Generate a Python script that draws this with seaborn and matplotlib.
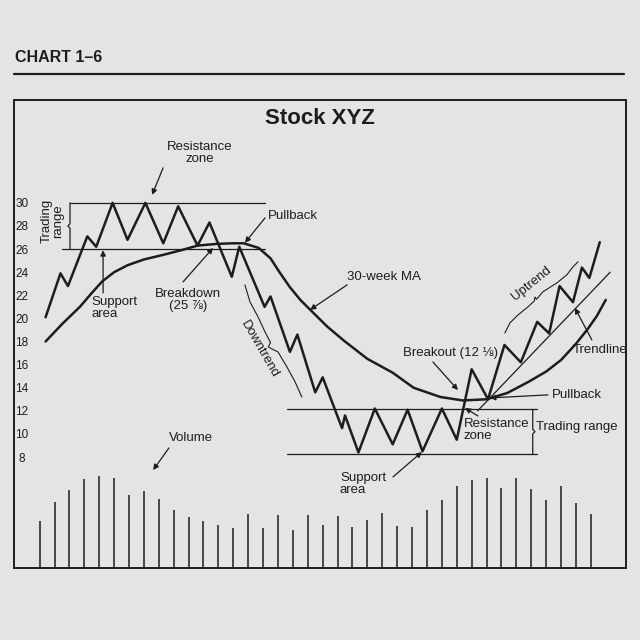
import matplotlib
matplotlib.use("Agg")
import matplotlib.pyplot as plt
from matplotlib.lines import Line2D
import numpy as np
import pandas as pd
import seaborn as sns

# ---- data -------------------------------------------------------------
# weekly closing swings of the stock (week, price)
price_week = [0.4, 1.4, 1.9, 3.2, 3.8, 4.9, 5.9, 7.1, 8.3, 9.3, 10.6, 11.4,
              12.9, 13.4, 15.1, 15.5, 16.8, 17.3, 18.5, 19.0, 20.3, 20.5,
              21.4, 22.5, 23.7, 24.7, 25.7, 27.0, 28.0, 29.0, 30.1, 31.2,
              32.3, 33.4, 34.2, 34.9, 35.8, 36.4, 36.9, 37.6]
price = [20.1, 23.9, 22.8, 27.1, 26.2, 30.0, 26.8, 30.0, 26.5, 29.7, 26.3, 28.3,
         23.6, 26.2, 21.0, 21.9, 17.1, 18.6, 13.6, 14.9, 10.5, 11.6,
         8.4, 12.2, 9.1, 12.1, 8.5, 12.2, 9.5, 15.6, 13.0, 17.7,
         16.2, 19.7, 18.7, 22.8, 21.4, 24.4, 23.5, 26.6]

# 30-week moving average
ma_week = [0.4, 1.5, 2.7, 3.5, 4.2, 5.0, 5.9, 7.0, 8.3, 9.5, 10.6, 11.9,
           13.0, 13.7, 14.7, 15.5, 16.1, 16.8, 17.5, 18.2, 19.3, 20.4,
           22.0, 23.7, 25.1, 26.9, 28.4, 30.0, 31.4, 32.8, 34.0, 35.0,
           36.0, 36.8, 37.4, 38.0]
ma = [18.0, 19.5, 21.0, 22.2, 23.2, 24.0, 24.6, 25.1, 25.5, 25.9, 26.3, 26.45,
      26.5, 26.5, 26.1, 25.2, 24.0, 22.7, 21.6, 20.7, 19.3, 18.1,
      16.5, 15.3, 14.0, 13.2, 12.9, 13.0, 13.55, 14.5, 15.4, 16.4,
      17.8, 19.1, 20.2, 21.6]

# weekly volume
volume = [47, 66, 78, 89, 92, 90, 73, 77, 69, 58, 51, 47, 43, 40, 54, 40, 53,
          38, 53, 43, 52, 41, 48, 55, 42, 41, 58, 68, 82, 88, 90, 80, 90, 79,
          68, 82, 65, 54]
volume_week = list(range(len(volume)))

# key levels
upper_resistance = 30.0
upper_support = 26.0
lower_resistance = 12.125
lower_support = 8.25
trend_week = [29.4, 38.3]
trend_price = [12.0, 24.0]

price_ticks = list(range(8, 31, 2))

# ---- style ------------------------------------------------------------
sns.set_style("white")
plt.rcParams["font.family"] = ["Liberation Sans", "DejaVu Sans"]
PAPER = "#e4e5e3"
INK = "#1d1d1d"
FS = 9.5

fig = plt.figure(figsize=(6.4, 6.4), dpi=100, facecolor=PAPER)

fig.text(15 / 640, 1 - 57 / 640, "CHART 1\u20136", fontsize=11.5,
         fontweight="bold", color=INK, ha="left", va="center")
fig.add_artist(Line2D([14 / 640, 624 / 640], [1 - 74 / 640] * 2,
                      lw=1.6, color=INK, transform=fig.transFigure))

ax = fig.add_axes([14 / 640, 1 - 568 / 640, 612 / 640, 468 / 640])
ax.set_facecolor(PAPER)
ax.set_xlim(-1.72, 39.36)
ax.set_ylim(-1.6, 38.9)
for sp in ax.spines.values():
    sp.set_color(INK)
    sp.set_linewidth(1.4)

# volume on a twin scale, bars rising from the bottom of the frame
axv = ax.twinx()
axv.set_ylim(0, 468)
axv.vlines(volume_week, 0, volume, color=INK, lw=1.1)
axv.set_yticks([])
axv.set_xlim(ax.get_xlim())
for sp in axv.spines.values():
    sp.set_visible(False)
ax.set_zorder(axv.get_zorder() + 1)
ax.patch.set_visible(False)

# price and moving average
df_price = pd.DataFrame({"week": price_week, "price": price})
df_ma = pd.DataFrame({"week": ma_week, "ma": ma})
sns.lineplot(data=df_price, x="week", y="price", sort=False, estimator=None,
             color=INK, lw=1.8, ax=ax)
sns.lineplot(data=df_ma, x="week", y="ma", sort=False, estimator=None,
             color=INK, lw=1.8, ax=ax)
ax.plot(trend_week, trend_price, color=INK, lw=0.9)

# trading ranges
thin = dict(color=INK, lw=0.9)
ax.plot([2.04, 15.1], [upper_resistance] * 2, **thin)
ax.plot([1.5, 15.1], [upper_support] * 2, **thin)
ax.plot([2.04, 2.04, 1.9, 2.04, 2.04],
        [upper_resistance, 28.2, 28.0, 27.8, upper_support], **thin)
ax.plot([16.6, 33.4], [lower_resistance] * 2, **thin)
ax.plot([16.6, 33.4], [lower_support] * 2, **thin)
ax.plot([33.1, 33.1, 33.25, 33.1, 33.1],
        [lower_resistance, 10.4, 10.2, 10.0, lower_support], **thin)

# braces beside the trends
ax.plot([13.78, 14.12, 14.66, 15.13, 15.5, 15.35, 15.6, 16.0, 16.6, 17.15, 17.6],
        [22.9, 21.43, 20.13, 18.83, 17.9, 17.55, 17.35, 17.1, 15.8, 14.5, 13.2],
        color=INK, lw=0.8)
ax.plot([31.23, 31.57, 32.11, 32.78, 33.2, 33.25, 33.35, 33.78, 34.72, 35.39, 35.8, 36.14],
        [18.74, 19.61, 20.3, 21.0, 21.5, 21.85, 21.65, 22.3, 23.07, 23.77, 24.46, 24.9],
        color=INK, lw=0.8)

ax.set_yticks(price_ticks)
ax.set_yticklabels([str(t) for t in price_ticks], fontsize=8.5, color=INK)
ax.tick_params(axis="y", length=0, pad=-5.5)
for lbl in ax.get_yticklabels():
    lbl.set_ha("center")
ax.set_xticks([])
ax.set_xlabel("")
ax.set_ylabel("")

ax.text(0.5, 0.9615, "Stock XYZ", transform=ax.transAxes, fontsize=16,
        fontweight="bold", color=INK, ha="center", va="center")

labels = [
    ("Resistance\nzone", 10.75, 34.3, "center", 0),
    ("Trading\nrange", 0.85, 28.4, "center", 90),
    ("Support\narea", 3.45, 20.9, "left", 0),
    ("Breakdown\n(25 \u215e)", 9.95, 21.6, "center", 0),
    ("Pullback", 15.33, 28.87, "left", 0),
    ("30-week MA", 20.64, 23.6, "left", 0),
    ("Downtrend", 14.75, 17.3, "center", -60),
    ("Breakout (12 \u215b)", 24.39, 17.0, "left", 0),
    ("Resistance\nzone", 28.48, 10.35, "left", 0),
    ("Trading range", 33.35, 10.6, "left", 0),
    ("Pullback", 34.39, 13.38, "left", 0),
    ("Trendline", 35.8, 17.27, "left", 0),
    ("Uptrend", 33.0, 23.0, "center", 39),
    ("Volume", 8.68, 9.65, "left", 0),
    ("Support\narea", 20.16, 5.63, "left", 0),
]
for txt, x, y, ha, rot in labels:
    ax.text(x, y, txt, fontsize=FS, color=INK, ha=ha, va="center",
            rotation=rot, linespacing=1.0 if rot == 0 else 0.9,
            rotation_mode="anchor" if rot not in (0, 90) else "default")

arrows = [
    ((8.29, 33.03), (7.55, 30.69)),
    ((4.26, 22.2), (4.26, 25.9)),
    ((9.63, 23.16), (11.64, 26.1)),
    ((15.13, 28.7), (13.78, 26.54)),
    ((20.64, 22.9), (18.15, 20.74)),
    ((26.4, 16.23), (28.08, 13.8)),
    ((29.42, 11.56), (28.55, 12.25)),
    ((34.12, 13.38), (30.23, 13.12)),
    ((37.07, 18.14), (35.93, 20.9)),
    ((8.68, 8.79), (7.62, 6.88)),
    ((23.72, 6.28), (25.66, 8.44)),
]
for tail, head in arrows:
    ax.annotate("", xy=head, xytext=tail,
                arrowprops=dict(arrowstyle="-|>", color=INK, lw=0.9,
                                mutation_scale=8, shrinkA=0, shrinkB=0))

fig.savefig("out.png", dpi=100, facecolor=PAPER)
